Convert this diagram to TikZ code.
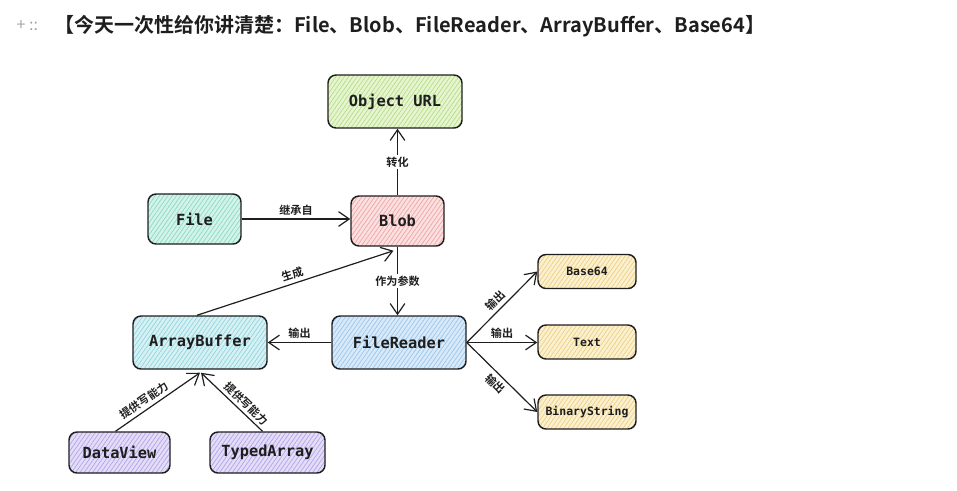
\documentclass[tikz,border=0pt]{standalone}
\usepackage{fontspec}
\setmonofont{DejaVu Sans Mono}
\newfontfamily\cjk{Noto Sans CJK SC}
\newfontfamily\cjkb{Noto Sans CJK SC Bold}
\usetikzlibrary{arrows.meta,patterns.meta,calc}
\definecolor{ink}{HTML}{1E1E1E}
\definecolor{gfill}{HTML}{E6F5D0}\definecolor{ghatch}{HTML}{B3DC86}
\definecolor{tfill}{HTML}{D2F3EA}\definecolor{thatch}{HTML}{8CD9C0}
\definecolor{pfill}{HTML}{FBE0E0}\definecolor{phatch}{HTML}{EFA2A5}
\definecolor{cfill}{HTML}{D6F1F4}\definecolor{chatch}{HTML}{90D4DF}
\definecolor{bfill}{HTML}{D8E9F8}\definecolor{bhatch}{HTML}{98C6EE}
\definecolor{yfill}{HTML}{FBF0CF}\definecolor{yhatch}{HTML}{EDCF80}
\definecolor{vfill}{HTML}{E3DDF7}\definecolor{vhatch}{HTML}{B2A1EA}
\tikzset{
  box/.style 2 args={draw=ink, line width=1.1pt, rounded corners=6pt,
    preaction={fill=#1},
    preaction={pattern={Lines[angle=55,distance=2.6pt,line width=0.5pt]}, pattern color=#2},
    font=\ttfamily\bfseries\fontsize{11.5}{13}\selectfont, text=ink, inner sep=0pt},
  big/.style={minimum width=100.5pt, minimum height=39.75pt},
  mid/.style={minimum width=69.75pt, minimum height=37.5pt},
  small/.style={minimum width=73.5pt, minimum height=25.5pt, font=\ttfamily\bfseries\fontsize{8.6}{10}\selectfont},
  low/.style={minimum height=30.75pt},
  conn/.style={draw=ink, line width=0.9pt, -{Straight Barb[length=8pt,width=11pt,line width=0.9pt]}},
  lab/.style={font=\cjkb\fontsize{8.3}{9}\selectfont, text=ink, inner sep=1.5pt},
}
\begin{document}
\begin{tikzpicture}[x=0.75pt,y=-0.75pt]
\useasboundingbox (0,0) rectangle (957,490);
\node[font=\cjk\fontsize{12}{12}\selectfont, text=black!35, anchor=west] (plus) at (12,26) {+ ::};
\node[font=\cjkb\fontsize{15}{16}\selectfont, text=ink, anchor=west, inner sep=0pt] (title) at (54,26) {【今天一次性给你讲清楚：File、Blob、FileReader、ArrayBuffer、Base64】};

\node[box={gfill}{ghatch}, big] (url) at (395,101.5) {Object URL};
\node[box={tfill}{thatch}, mid] (file) at (194.5,219) {File};
\node[box={pfill}{phatch}, mid] (blob) at (397.5,221) {Blob};
\node[box={cfill}{chatch}, big] (ab) at (200,342.5) {ArrayBuffer};
\node[box={bfill}{bhatch}, big] (fr) at (399,342.5) {FileReader};
\node[box={yfill}{yhatch}, small] (b64) at (587,271.5) {Base64};
\node[box={yfill}{yhatch}, small] (txt) at (587,342) {Text};
\node[box={yfill}{yhatch}, small] (bin) at (587,412) {BinaryString};
\node[box={vfill}{vhatch}, low, minimum width=75.75pt] (dv) at (119.5,452.5) {DataView};
\node[box={vfill}{vhatch}, low, minimum width=86.25pt] (ta) at (267.5,452.5) {TypedArray};

\draw[conn] (blob.north) -- node[lab, fill=white] {转化} (url.south -| blob.north);
\draw[conn] (file.east) -- node[lab, above=1pt] {继承自} (blob.west |- file.east);
\draw[conn] ($(ab.north)+(-3,0)$) -- node[lab, sloped, above=1pt] {生成} ($(blob.south)+(-4,4)$);
\draw[conn] (blob.south) -- node[lab, fill=white] {作为参数} (fr.north -| blob.south);
\draw[conn] (fr.west) -- node[lab, above=1pt] {输出} (ab.east);
\draw[conn] (fr.east) -- node[lab, sloped, above=1pt] {输出} (b64.west);
\draw[conn] (fr.east) -- node[lab, above=1pt] {输出} (txt.west |- fr.east);
\draw[conn] (fr.east) -- node[lab, sloped, below=1pt] {输出} (bin.west);
\draw[conn] ($(dv.north)+(-4,0)$) -- node[lab, sloped, above=1pt, pos=0.4] {提供写能力} ($(ab.south)+(0,3)$);
\draw[conn] ($(ta.north)+(-5,0)$) -- node[lab, sloped, above=1pt, pos=0.36] {提供写能力} ($(ab.south)+(1,3)$);
\end{tikzpicture}
\end{document}
